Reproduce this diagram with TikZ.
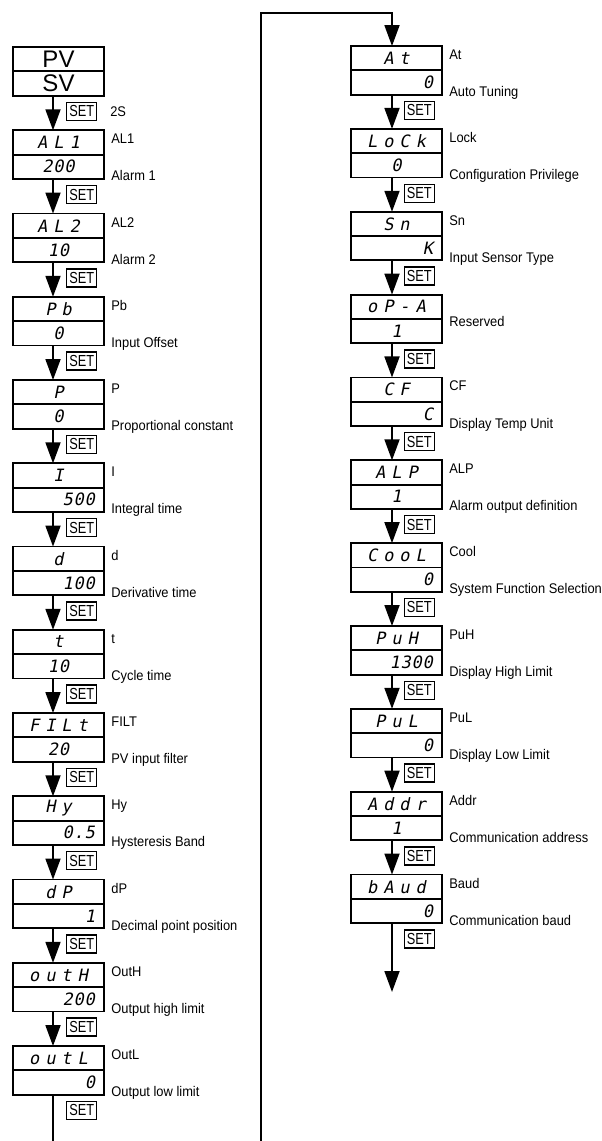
\documentclass[tikz,border=0pt]{standalone}
\usepackage{fontspec}
\setmainfont{Liberation Sans}
\newfontfamily\lblfont[FakeStretch=0.92]{Liberation Sans}
\newfontfamily\keyfont[FakeStretch=0.8]{Liberation Sans}
\newfontfamily\segnum[FakeSlant=0.2,LetterSpace=5]{DejaVu Sans Mono}
\newfontfamily\segword[FakeSlant=0.2,LetterSpace=35]{DejaVu Sans Mono}
\usetikzlibrary{arrows.meta,positioning,calc}
\definecolor{ink}{HTML}{000000}

\begin{document}
\begin{tikzpicture}[x=1pt,y=1pt,line width=1.8pt,>={Triangle[length=21pt,width=15pt]},
  cell/.style={draw=ink,rectangle,inner sep=0pt,outer sep=0pt,
               minimum width=91pt,minimum height=24.3pt},
  segC/.style={cell,text width=73pt,inner xsep=9pt,align=center},
  segR/.style={cell,text width=73pt,inner xsep=9pt,align=right},
  segtop/.style={font=\segword\fontsize{17}{17}\selectfont},
  segbot/.style={font=\segnum\fontsize{17}{17}\selectfont},
  big/.style={font=\fontsize{24}{24}\selectfont},
  tag/.style={inner sep=0pt,font=\lblfont\fontsize{14}{14}\selectfont},
  key/.style={draw=ink,line width=1.4pt,inner sep=0pt,minimum width=30pt,
              minimum height=18pt,font=\keyfont\fontsize{16}{16}\selectfont}]
  \useasboundingbox (0,0) rectangle (602,-1141);
  % left column
  \node[cell,big] (L0-t) at (58.5,-59.2) {PV};
  \node[cell,big,below=0pt of L0-t] (L0-b) {SV};
  \foreach \i/\disp/\al/\val/\nm/\desc in {
    1/AL1/segC/200/AL1/Alarm 1,
    2/AL2/segC/10/AL2/Alarm 2,
    3/Pb/segC/0/Pb/Input Offset,
    4/P/segC/0/P/Proportional constant,
    5/I/segR/500/I/Integral time,
    6/d/segR/100/d/Derivative time,
    7/t/segC/10/t/Cycle time,
    8/FILt/segC/20/FILT/PV input filter,
    9/Hy/segR/0.5/Hy/Hysteresis Band,
    10/dP/segR/1/dP/Decimal point position,
    11/outH/segR/200/OutH/Output high limit,
    12/outL/segR/0/OutL/Output low limit}{
    \node[segC,segtop] (L\i-t) at (58.5,{-59.2-83.25*\i}) {\disp};
    \node[\al,segbot,below=0pt of L\i-t] (L\i-b) {\val};
    \node[tag,anchor=base west] (L\i-n) at ([xshift=6.5pt,yshift=-13.5pt]L\i-t.north east) {\nm};
    \node[tag,anchor=base west] (L\i-d) at ([xshift=6.5pt,yshift=-2pt]L\i-b.south east) {\desc};
  }
  \foreach \i in {0,...,12}
    \node[key,anchor=north west] (L\i-k) at ([xshift=7.5pt,yshift=-6pt]L\i-b.south) {SET};
  \node[tag,anchor=west] (hold) at ([xshift=12pt]L0-k.east) {2S};
  \foreach \i [count=\j from 1] in {0,...,11}
    \draw[->] ([xshift=-5.5pt]L\i-b.south) -- ([xshift=-5.5pt]L\j-t.north);
  \coordinate (cutL) at (53,-1141);
  \draw ([xshift=-5.5pt]L12-b.south) -- (cutL);

  % right column
  \foreach \i/\disp/\al/\val/\f/\nm/\dy/\desc in {
    0/At/segR/0/1/At/-2/Auto Tuning,
    1/LoCk/segC/0/1/Lock/-2/Configuration Privilege,
    2/Sn/segR/K/1/Sn/-2/Input Sensor Type,
    3/oP-A/segC/1/0/-/17/Reserved,
    4/CF/segR/C/1/CF/-2/Display Temp Unit,
    5/ALP/segC/1/1/ALP/-2/Alarm output definition,
    6/CooL/segR/0/1/Cool/-2/System Function Selection,
    7/PuH/segR/1300/1/PuH/-2/Display High Limit,
    8/PuL/segR/0/1/PuL/-2/Display Low Limit,
    9/Addr/segC/1/1/Addr/-2/Communication address,
    10/bAud/segR/0/1/Baud/-2/Communication baud}{
    \node[segC,segtop] (R\i-t) at (396.5,{-58.2-82.85*\i}) {\disp};
    \node[\al,segbot,below=0pt of R\i-t] (R\i-b) {\val};
    \ifnum\f=1
      \node[tag,anchor=base west] (R\i-n) at ([xshift=6.5pt,yshift=-13.5pt]R\i-t.north east) {\nm};
    \fi
    \node[tag,anchor=base west] (R\i-d) at ([xshift=6.5pt,yshift=\dy pt]R\i-b.south east) {\desc};
    \node[key,anchor=north west] (R\i-k) at ([xshift=7pt,yshift=-6pt]R\i-b.south) {SET};
  }
  \foreach \i [count=\j from 1] in {0,...,9}
    \draw[->] ([xshift=-4.5pt]R\i-b.south) -- ([xshift=-4.5pt]R\j-t.north);
  \coordinate (stopR) at (392,-992);
  \draw[->] ([xshift=-4.5pt]R10-b.south) -- (stopR);

  % link back up
  \coordinate (cutM) at (261,-1141);
  \coordinate (bend) at (261,-13);
  \draw[->] (cutM) -- (bend) -| ([xshift=-4.5pt]R0-t.north);
\end{tikzpicture}
\end{document}
